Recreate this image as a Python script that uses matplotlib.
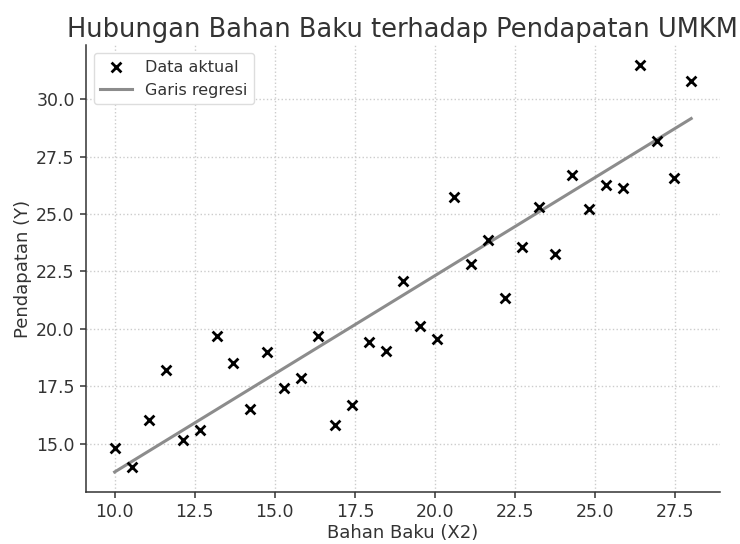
import numpy as np
import matplotlib.pyplot as plt

# data
bahan_baku = [10.0, 10.53, 11.06, 11.59, 12.12, 12.65, 13.18, 13.71, 14.24, 14.76,
              15.29, 15.82, 16.35, 16.88, 17.41, 17.94, 18.47, 19.0, 19.53, 20.06,
              20.59, 21.12, 21.65, 22.18, 22.71, 23.24, 23.76, 24.29, 24.82, 25.35,
              25.88, 26.41, 26.94, 27.47, 28.0]
pendapatan = [14.83, 14.0, 16.04, 18.2, 15.17, 15.6, 19.67, 18.5, 16.5, 18.98,
              17.42, 17.85, 19.7, 15.82, 16.68, 19.45, 19.02, 22.09, 20.14, 19.58,
              25.76, 22.82, 23.86, 21.35, 23.56, 25.29, 23.26, 26.71, 25.24, 26.28,
              26.15, 31.47, 28.18, 26.58, 30.78]

# koefisien garis regresi
b0 = 5.22
b1 = 0.855

x = np.array(bahan_baku)
y = np.array(pendapatan)
y_pred = b0 + b1 * x

fig, ax = plt.subplots(figsize=(7.4, 5.44), dpi=100)
fig.subplots_adjust(left=0.116, right=0.973, bottom=0.095, top=0.917)

ax.scatter(x, y, marker='x', color='black', s=50, linewidths=2, label='Data aktual', zorder=3)
ax.plot(x, y_pred, color='#8c8c8c', linewidth=2.2, label='Garis regresi')

ax.set_title('Hubungan Bahan Baku terhadap Pendapatan UMKM', fontsize=18.5, color='#333333')
ax.set_xlabel('Bahan Baku (X2)', fontsize=13, color='#333333', labelpad=2)
ax.set_ylabel('Pendapatan (Y)', fontsize=13, color='#333333', labelpad=3)
ax.tick_params(labelsize=12.5, labelcolor='#333333', color='#333333', length=4.5, width=1.1)

ax.spines['top'].set_visible(False)
ax.spines['right'].set_visible(False)
ax.spines['left'].set_color('#333333')
ax.spines['bottom'].set_color('#333333')
ax.spines['left'].set_linewidth(1.1)
ax.spines['bottom'].set_linewidth(1.1)

ax.grid(True, linestyle=':', color='#cccccc', linewidth=1)
leg = ax.legend(loc='upper left', fontsize=11.5, framealpha=1, edgecolor='#dddddd', fancybox=True)
for t in leg.get_texts():
    t.set_color('#333333')

plt.savefig('out.png')
